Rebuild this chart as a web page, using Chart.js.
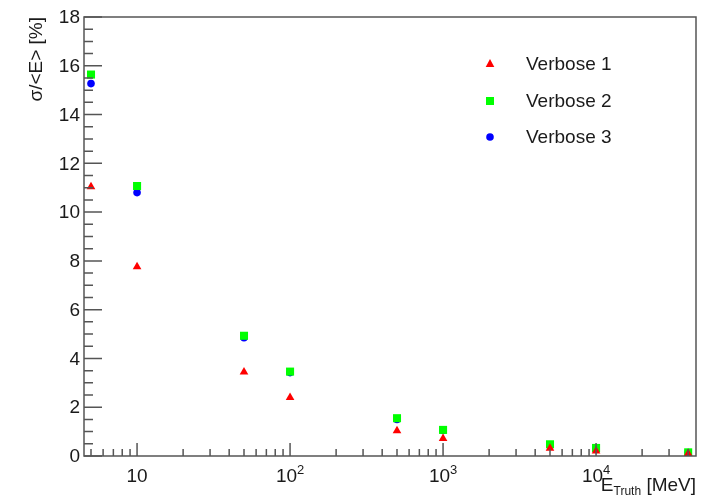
<!DOCTYPE html>
<html>
<head>
<meta charset="utf-8">
<script src="https://cdn.jsdelivr.net/npm/chart.js@4.4.1/dist/chart.umd.min.js"></script>
<style>
  body { margin: 0; background: #fff; }
  #box { width: 720px; height: 500px; }
</style>
</head>
<body>
<div id="box"><canvas id="ResolutionChart" width="720" height="500"></canvas></div>
<script>
// ---------------- DATA -------------------
const Energies = [5, 10, 50, 100, 500, 1000, 5000, 10000, 40000]
const Verbose1 = [11.04, 7.76, 3.44, 2.4, 1.04, 0.72, 0.32, 0.2, 0.1]
const Verbose2 = [15.64, 11.07, 4.93, 3.46, 1.55, 1.07, 0.48, 0.33, 0.15]
const Verbose3 = [15.27, 10.8, 4.85, 3.42, 1.5, 1.05, 0.45, 0.31, 0.14]
const SeriesNames = ['Verbose 1', 'Verbose 2', 'Verbose 3']
const YTicks = [0, 2, 4, 6, 8, 10, 12, 14, 16, 18]
const XDecades = [10, 100, 1000, 10000]

const FONT = '"Liberation Sans", Arial, Helvetica, sans-serif'
const AXIS = '#555'
const TEXT = '#1a1a1a'

function toPoints(values) {
    return Energies.map((e, i) => ({x: e, y: values[i]}))
}

// ---------------- ROOT STYLE FRAME -------------------
function marker(ctx, style, color, x, y) {
    ctx.fillStyle = color
    ctx.beginPath()
    if (style === 'triangle') {
        ctx.moveTo(x, y - 5); ctx.lineTo(x + 4.3, y + 3); ctx.lineTo(x - 4.3, y + 3)
    } else if (style === 'rect') {
        ctx.rect(x - 4, y - 4, 8, 8)
    } else {
        ctx.arc(x, y, 3.8, 0, Math.PI * 2)
    }
    ctx.closePath()
    ctx.fill()
}

const RootFrame = {
    id: 'rootFrame',
    afterDraw(chart) {
        const {ctx, chartArea: a, scales: {x, y}} = chart
        ctx.save()
        ctx.strokeStyle = AXIS
        ctx.lineWidth = 1.5
        ctx.strokeRect(a.left, a.top, a.right - a.left, a.bottom - a.top)

        // y ticks, major every 2, minor every 0.5
        ctx.beginPath()
        for (let v = 0; v <= 18; v += 0.5) {
            const py = y.getPixelForValue(v)
            const len = v % 2 === 0 ? 18 : 9
            ctx.moveTo(a.left, py); ctx.lineTo(a.left + len, py)
        }
        // x ticks (log)
        for (let d = 1; d <= 10000; d *= 10) {
            for (let m = 1; m <= 9; m++) {
                const v = m * d
                if (v < x.min || v > x.max) continue
                const px = x.getPixelForValue(v)
                const len = m === 1 ? 13 : 7
                ctx.moveTo(px, a.bottom); ctx.lineTo(px, a.bottom - len)
            }
        }
        ctx.stroke()

        // y labels
        ctx.fillStyle = TEXT
        ctx.font = '19px ' + FONT
        ctx.textAlign = 'right'
        ctx.textBaseline = 'middle'
        YTicks.forEach(v => ctx.fillText(String(v), a.left - 4, y.getPixelForValue(v) + 1))

        // x labels 10, 10^2 ...
        ctx.textAlign = 'left'
        ctx.textBaseline = 'alphabetic'
        XDecades.forEach(v => {
            const px = x.getPixelForValue(v)
            const exp = Math.round(Math.log10(v))
            ctx.font = '19px ' + FONT
            const w1 = ctx.measureText('10').width
            if (exp === 1) {
                ctx.fillText('10', px - w1 / 2, 482)
                return
            }
            ctx.font = '13px ' + FONT
            const w2 = ctx.measureText(String(exp)).width
            const x0 = px - (w1 + w2) / 2
            ctx.font = '19px ' + FONT
            ctx.fillText('10', x0, 482)
            ctx.font = '13px ' + FONT
            ctx.fillText(String(exp), x0 + w1, 474)
        })

        // x title  E_Truth [MeV]
        ctx.font = '19px ' + FONT
        const wE = ctx.measureText('E').width
        const wU = ctx.measureText(' [MeV]').width
        ctx.font = '12px ' + FONT
        const wT = ctx.measureText('Truth').width
        let tx = a.right - (wE + wT + wU)
        ctx.font = '19px ' + FONT
        ctx.fillText('E', tx, 491)
        ctx.font = '12px ' + FONT
        ctx.fillText('Truth', tx + wE, 495)
        ctx.font = '19px ' + FONT
        ctx.fillText(' [MeV]', tx + wE + wT, 491)

        // y title
        ctx.save()
        ctx.translate(37, a.top)
        ctx.rotate(-Math.PI / 2)
        ctx.textAlign = 'right'
        ctx.textBaseline = 'middle'
        ctx.font = '19px ' + FONT
        ctx.fillText('σ/<E> [%]', 0, 0)
        ctx.restore()

        // legend
        const rows = [64, 101, 137]
        chart.data.datasets.forEach((ds, i) => {
            marker(ctx, ds.pointStyle, ds.backgroundColor, 490, rows[i])
            ctx.fillStyle = TEXT
            ctx.font = '19px ' + FONT
            ctx.textAlign = 'left'
            ctx.textBaseline = 'middle'
            ctx.fillText(ds.label, 526, rows[i] + 1)
        })
        ctx.restore()
    }
}

// ---------------- CHART -------------------
new Chart(document.getElementById('ResolutionChart').getContext('2d'), {
    type: 'scatter',
    data: {
        datasets: [{
            label: SeriesNames[0],
            data: toPoints(Verbose1),
            pointStyle: 'triangle',
            pointRadius: 5,
            backgroundColor: '#ff0000',
            borderColor: '#ff0000',
            borderWidth: 0
        }, {
            label: SeriesNames[1],
            data: toPoints(Verbose2),
            pointStyle: 'rect',
            pointRadius: 5.7,
            backgroundColor: '#00ff00',
            borderColor: '#00ff00',
            borderWidth: 0
        }, {
            label: SeriesNames[2],
            data: toPoints(Verbose3),
            pointStyle: 'circle',
            pointRadius: 3.8,
            backgroundColor: '#0000ff',
            borderColor: '#0000ff',
            borderWidth: 0
        }]
    },
    options: {
        responsive: false,
        animation: false,
        layout: {padding: {left: 84, top: 17, right: 24, bottom: 44}},
        plugins: {
            legend: {display: false},
            tooltip: {enabled: false}
        },
        scales: {
            x: {type: 'logarithmic', min: 4.5, max: 45000, display: false},
            y: {type: 'linear', min: 0, max: 18, display: false}
        }
    },
    plugins: [RootFrame]
})
</script>
</body>
</html>
